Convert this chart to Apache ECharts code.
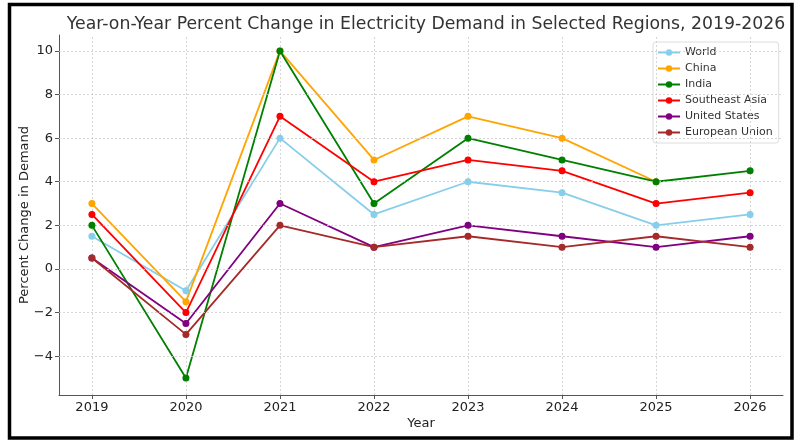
<!DOCTYPE html>
<html>
<head>
<meta charset="utf-8">
<script src="https://cdn.jsdelivr.net/npm/echarts@6/dist/echarts.min.js"></script>
<style>html,body{margin:0;padding:0;background:#fff;}#c{width:805px;height:446px;}</style>
</head>
<body>
<div id="c"></div>
<script>
var years = [2019, 2020, 2021, 2022, 2023, 2024, 2025, 2026];
var yTicks = [-4, -2, 0, 2, 4, 6, 8, 10];
var world = [1.5, -1, 6, 2.5, 4, 3.5, 2, 2.5];
var china = [3, -1.5, 10, 5, 7, 6, 4, null];
var india = [2, -5, 10, 3, 6, 5, 4, 4.5];
var seAsia = [2.5, -2, 7, 4, 5, 4.5, 3, 3.5];
var usa = [0.5, -2.5, 3, 1, 2, 1.5, 1, 1.5];
var eu = [0.5, -3, 2, 1, 1.5, 1, 1.5, 1];

var seriesDefs = [
  {name: 'World', data: world, color: '#87ceeb'},
  {name: 'China', data: china, color: '#ffa500'},
  {name: 'India', data: india, color: '#008000'},
  {name: 'Southeast Asia', data: seAsia, color: '#ff0000'},
  {name: 'United States', data: usa, color: '#800080'},
  {name: 'European Union', data: eu, color: '#a52a2a'}
];

var font = 'DejaVu Sans';
var chart = echarts.init(document.getElementById('c'));
var series = [];
seriesDefs.forEach(function (s, k) {
  var pts = years.map(function (y, i) { return [y, s.data[i]]; });
  series.push({
    name: s.name,
    type: 'line',
    data: pts,
    connectNulls: false,
    symbol: 'circle',
    symbolSize: 6,
    lineStyle: {width: 1.8, color: s.color},
    itemStyle: {color: s.color},
    emphasis: {disabled: true},
    animation: false,
    z: 3,
    zlevel: 0
  });
  series.push({
    name: s.name,
    type: 'scatter',
    data: pts.filter(function (p) { return p[1] != null; }),
    symbol: 'circle',
    symbolSize: 7,
    itemStyle: {color: s.color, opacity: 1},
    emphasis: {disabled: true},
    animation: false,
    z: 10 + k
  });
});
// grid lines via markLine on a helper series
series.push({
  type: 'line', name: '_grid', data: [], silent: true, animation: false,
  markLine: {
    silent: true, symbol: 'none', label: {show: false}, animation: false,
    lineStyle: {color: '#cccccc', type: [2, 2], width: 0.8},
    data: years.map(function (y) { return {xAxis: y}; }).concat(
      yTicks.map(function (v) { return {yAxis: v}; }))
  },
  z: 1
});

chart.setOption({
  backgroundColor: '#fff',
  animation: false,
  title: {
    text: 'Year-on-Year Percent Change in Electricity Demand in Selected Regions, 2019-2026',
    left: 421, top: 11, textAlign: 'center',
    textStyle: {fontFamily: font, fontSize: 17.3, fontWeight: 'normal', color: '#333'}
  },
  grid: {left: 59, right: 22, top: 35, bottom: 51},
  legend: {
    data: seriesDefs.map(function (s) { return s.name; }),
    orient: 'vertical', left: 653, top: 42,
    backgroundColor: 'rgba(255,255,255,0.85)', borderColor: '#dddddd', borderWidth: 1, borderRadius: 3,
    padding: [4, 6, 4, 4],
    itemWidth: 22, itemHeight: 8, itemGap: 3,
    textStyle: {fontFamily: font, fontSize: 11, color: '#333', lineHeight: 13}
  },
  xAxis: {
    type: 'value', min: 2018.65, max: 2026.35,
    name: 'Year', nameLocation: 'middle', nameGap: 22, nameMoveOverlap: false,
    nameTextStyle: {fontFamily: font, fontSize: 13, color: '#222'},
    axisLine: {show: true, onZero: false, lineStyle: {color: '#555', width: 1}},
    axisTick: {show: true, length: 4, customValues: years, lineStyle: {color: '#555'}},
    axisLabel: {customValues: years, margin: 6, fontFamily: font, fontSize: 13, color: '#222',
      formatter: function (v) { return String(Math.round(v)); }},
    splitLine: {show: false}
  },
  yAxis: {
    type: 'value', min: -5.78, max: 10.73,
    name: 'Percent Change in Demand', nameLocation: 'middle', nameGap: 28, nameRotate: 90, nameMoveOverlap: false,
    nameTextStyle: {fontFamily: font, fontSize: 13, color: '#222'},
    axisLine: {show: true, lineStyle: {color: '#555', width: 1}},
    axisTick: {show: true, length: 4, customValues: yTicks, lineStyle: {color: '#555'}},
    axisLabel: {customValues: yTicks, margin: 6, fontFamily: font, fontSize: 13, color: '#222',
      formatter: function (v) { return String(Math.round(v)).replace('-', '\u2212'); }},
    splitLine: {show: false}
  },
  graphic: [{
    type: 'rect', shape: {x: 9.5, y: 4.5, width: 782.5, height: 433.5},
    style: {fill: null, stroke: '#000', lineWidth: 3.5}, silent: true, z: 100
  }],
  series: series
});
</script>
</body>
</html>
